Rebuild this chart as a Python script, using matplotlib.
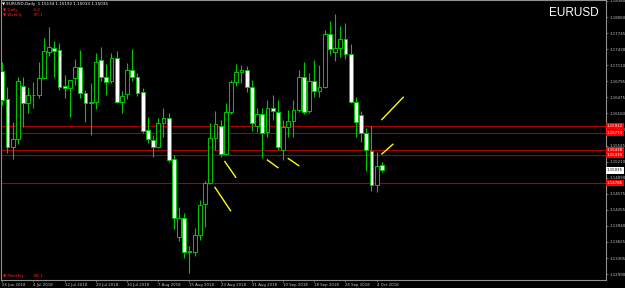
import matplotlib
matplotlib.use('Agg')
import matplotlib.pyplot as plt

# daily EURUSD bars, 26 Jun 2018 .. 5 Oct 2018
opens = [1.1700, 1.1644, 1.1550, 1.1566, 1.1670, 1.1637, 1.1652, 1.1652, 1.1686, 1.1737,
         1.1745, 1.1741, 1.1670, 1.1666, 1.1686, 1.1708, 1.1656, 1.1637, 1.1639, 1.1722,
         1.1688, 1.1680, 1.1725, 1.1639, 1.1654, 1.1702, 1.1688, 1.1658, 1.1583, 1.1564,
         1.1550, 1.1597, 1.1607, 1.1526, 1.1372, 1.1410, 1.1342, 1.1342, 1.1376, 1.1437,
         1.1479, 1.1568, 1.1591, 1.1536, 1.1619, 1.1678, 1.1698, 1.1702, 1.1668, 1.1591,
         1.1615, 1.1579, 1.1627, 1.1619, 1.1544, 1.1589, 1.1601, 1.1623, 1.1688, 1.1621,
         1.1680, 1.1660, 1.1668, 1.1773, 1.1737, 1.1745, 1.1763, 1.1733, 1.1639, 1.1613,
         1.1577, 1.1542, 1.1475, 1.15134]
highs = [1.1718, 1.1668, 1.1599, 1.1688, 1.1688, 1.1668, 1.1678, 1.1718, 1.1765, 1.1787,
         1.1759, 1.1755, 1.1692, 1.1682, 1.1723, 1.1741, 1.1662, 1.1676, 1.1735, 1.1747,
         1.1714, 1.1735, 1.1739, 1.1660, 1.1716, 1.1743, 1.1696, 1.1666, 1.1609, 1.1573,
         1.1607, 1.1627, 1.1617, 1.1534, 1.1431, 1.1419, 1.1354, 1.1390, 1.1445, 1.1483,
         1.1597, 1.1621, 1.1603, 1.1637, 1.1682, 1.1714, 1.1712, 1.1710, 1.1682, 1.1627,
         1.1627, 1.1643, 1.1652, 1.1643, 1.1603, 1.1623, 1.1643, 1.1702, 1.1718, 1.1696,
         1.1722, 1.1712, 1.1781, 1.1798, 1.1812, 1.1789, 1.1794, 1.1753, 1.1648, 1.1621,
         1.1587, 1.1591, 1.1540, 1.15192]
lows = [1.1633, 1.1538, 1.1526, 1.1556, 1.1589, 1.1617, 1.1627, 1.1646, 1.1684, 1.1729,
        1.1688, 1.1662, 1.1646, 1.1609, 1.1672, 1.1646, 1.1599, 1.1573, 1.1625, 1.1680,
        1.1652, 1.1676, 1.1637, 1.1617, 1.1644, 1.1680, 1.1650, 1.1577, 1.1558, 1.1530,
        1.1548, 1.1570, 1.1520, 1.1388, 1.1364, 1.1331, 1.1301, 1.1334, 1.1366, 1.1392,
        1.1477, 1.1544, 1.1530, 1.1534, 1.1615, 1.1670, 1.1676, 1.1658, 1.1581, 1.1579,
        1.1528, 1.1570, 1.1603, 1.1544, 1.1524, 1.1570, 1.1570, 1.1619, 1.1615, 1.1617,
        1.1648, 1.1648, 1.1666, 1.1731, 1.1720, 1.1727, 1.1723, 1.1637, 1.1570, 1.1560,
        1.1502, 1.1463, 1.1461, 1.15013]
closes = [1.1643, 1.1550, 1.1566, 1.1680, 1.1637, 1.1652, 1.1653, 1.1686, 1.1739, 1.1747,
          1.1739, 1.1668, 1.1666, 1.1682, 1.1708, 1.1656, 1.1637, 1.1639, 1.1718, 1.1688,
          1.1678, 1.1725, 1.1639, 1.1650, 1.1702, 1.1688, 1.1656, 1.1581, 1.1566, 1.1550,
          1.1597, 1.1607, 1.1524, 1.1410, 1.1410, 1.1342, 1.1344, 1.1376, 1.1435, 1.1479,
          1.1568, 1.1595, 1.1536, 1.1619, 1.1678, 1.1698, 1.1702, 1.1668, 1.1597, 1.1615,
          1.1577, 1.1627, 1.1621, 1.1550, 1.1589, 1.1601, 1.1623, 1.1688, 1.1619, 1.1680,
          1.1660, 1.1668, 1.1773, 1.1743, 1.1745, 1.1763, 1.1733, 1.1639, 1.1599, 1.1577,
          1.1544, 1.1475, 1.1512, 1.15035]

date_labels = ['26 Jun 2018', '4 Jul 2018', '12 Jul 2018', '20 Jul 2018', '30 Jul 2018',
               '7 Aug 2018', '15 Aug 2018', '23 Aug 2018', '31 Aug 2018', '10 Sep 2018',
               '18 Sep 2018', '26 Sep 2018', '4 Oct 2018']
date_bars = [0, 6, 12, 18, 24, 30, 36, 42, 48, 54, 60, 66, 72]

price_ticks = [1.12990, 1.13305, 1.13625, 1.13940, 1.14255, 1.14575, 1.14890, 1.15210,
               1.15525, 1.15840, 1.16160, 1.16475, 1.16795, 1.17110, 1.17430, 1.17745,
               1.18060, 1.18380]

# horizontal levels drawn by hand
levels = [1.15912, 1.15773, 1.15438, 1.15339, 1.14786]

# yellow hand-drawn segments: (bar0, price0, bar1, price1)
strokes = [(42.8, 1.1521, 44.9, 1.1490),
           (40.9, 1.1470, 43.9, 1.1424),
           (51.0, 1.1524, 53.0, 1.1509),
           (55.0, 1.1527, 57.0, 1.1513),
           (73.0, 1.1604, 77.1, 1.1648),
           (73.0, 1.1536, 75.1, 1.1555)]

bid = closes[-1]

GREEN = '#00c800'
W, H = 625, 288

fig = plt.figure(figsize=(W / 100, H / 100), dpi=100, facecolor='black')
ax = fig.add_axes([1 / W, 8 / H, 605 / W, 280 / H], facecolor='black')

n = len(opens)
xs = list(range(n))
ax.vlines(xs, lows, highs, color=GREEN, lw=0.8, zorder=2)
bottoms = [min(o, c) for o, c in zip(opens, closes)]
heights = [max(abs(c - o), 0.00004) for o, c in zip(opens, closes)]
faces = ['white' if c < o else 'black' for o, c in zip(opens, closes)]
ax.bar(xs, heights, bottom=bottoms, width=0.72, color=faces, edgecolor=GREEN,
       linewidth=0.7, zorder=3)

for lv in levels:
    ax.axhline(lv, color='#a80000', lw=0.8, zorder=1)
    ax.text(1.0015, lv, f'{lv:.5f}', transform=ax.get_yaxis_transform(), fontsize=2.8,
            color='white', va='center', ha='left', zorder=6, clip_on=False,
            bbox=dict(boxstyle='square,pad=0.35', fc='#ff0000', ec='none'))
ax.text(1.0015, bid, f'{bid:.5f}', transform=ax.get_yaxis_transform(), fontsize=2.8,
        color='black', va='center', ha='left', zorder=6, clip_on=False,
        bbox=dict(boxstyle='square,pad=0.35', fc='white', ec='none'))

for x0, y0, x1, y1 in strokes:
    ax.plot([x0, x1], [y0, y1], color='#ffff00', lw=1.0, zorder=4)

ax.set_xlim(-0.25, 116.1)
ax.set_ylim(1.12872, 1.18399)

ax.yaxis.tick_right()
ax.set_yticks(price_ticks)
ax.set_yticklabels([f'{p:.5f}' for p in price_ticks])
ax.set_xticks(date_bars)
ax.set_xticklabels(date_labels, ha='left')
ax.tick_params(axis='both', colors='#909090', labelcolor='#c8c8c8', labelsize=2.8,
               length=1.5, width=0.5, pad=1)
for sp in ax.spines.values():
    sp.set_color('#909090')
    sp.set_linewidth(0.8)

# header and indicator captions
fig.text(2 / W, 1 - 4 / H, '\u25bc EURUSD,Daily  1.15134 1.15192 1.15013 1.15035',
         fontsize=3, color='white', va='center', ha='left')
fig.text(3 / W, 1 - 10 / H, '\u25bc Daily', fontsize=3, color='#ff2020', va='center')
fig.text(33 / W, 1 - 10 / H, '-0.6', fontsize=3, color='#ff2020', va='center')
fig.text(3 / W, 1 - 15 / H, '\u25bc Weekly', fontsize=3, color='#ff2020', va='center')
fig.text(33 / W, 1 - 15 / H, '-90.1', fontsize=3, color='#ff2020', va='center')
fig.text(3 / W, 1 - 276 / H, '\u25bc Monthly', fontsize=3, color='#ff2020', va='center')
fig.text(33 / W, 1 - 276 / H, '-98.1', fontsize=3, color='#ff2020', va='center')
fig.text(549 / W, 1 - 12.5 / H, 'EURUSD', fontsize=8.5, family='Liberation Sans',
         color='white', va='center', ha='left')

fig.savefig('out.png', dpi=100, facecolor='black')
